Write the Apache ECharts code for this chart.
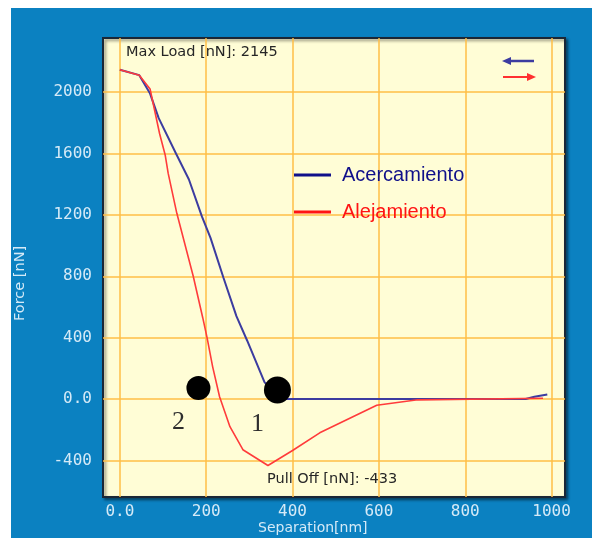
<!DOCTYPE html>
<html>
<head>
<meta charset="utf-8">
<script src="https://cdn.jsdelivr.net/npm/echarts@6/dist/echarts.min.js"></script>
<style>
  html, body { margin: 0; padding: 0; background: #ffffff; }
  #wrap { position: relative; width: 592px; height: 538px; }
  #panel { position: absolute; left: 11px; top: 8px; right: 0; bottom: 0; background: #0b81c1; }
  #chart { position: absolute; left: 0; top: 0; width: 592px; height: 538px; }
</style>
</head>
<body>
<div id="wrap"><div id="panel"></div><div id="chart"></div></div>
<script>
// Force–separation curves of an AFM indentation (separation in nm, force in nN)
const approachSep   = [0, 45, 70, 90, 130, 160, 190, 210, 240, 270, 295, 335, 370, 940, 960, 990];
const approachForce = [2145, 2110, 1990, 1830, 1600, 1430, 1190, 1050, 790, 540, 380, 110, 0, 0, 15, 30];

const retractSep   = [0, 45, 70, 92, 105, 112, 132, 170, 192, 202, 215, 231, 255, 285, 343, 400, 463, 595, 690, 980];
const retractForce = [2145, 2110, 2020, 1730, 1590, 1470, 1210, 800, 530, 400, 210, 15, -180, -330, -433, -335, -220, -40, -5, 5];

// contact events marked on the curves
const eventNames = ['1', '2'];
const eventSep   = [365, 182];
const eventForce = [59, 72];

const seriesNames = ['Acercamiento', 'Alejamiento'];
const xTicks = [0, 200, 400, 600, 800, 1000];
const yTicks = [-400, 0, 400, 800, 1200, 1600, 2000];

const maxLoad = Math.max(...approachForce, ...retractForce);
const pullOff = Math.min(...retractForce);

const pair = (xs, ys) => xs.map((x, i) => [x, ys[i]]);
const tickFmt = v => (v === 0 ? '0.0' : String(v));

const axisLabelColor = '#d5eaf7';
const gridColor = 'rgba(255,190,70,0.75)';

const chart = echarts.init(document.getElementById('chart'), null, { renderer: 'canvas' });

chart.setOption({
  animation: false,
  backgroundColor: 'transparent',
  grid: {
    left: 103, top: 38, width: 462, height: 459,
    show: true,
    backgroundColor: '#fffdd6',
    borderColor: '#1b2736',
    borderWidth: 2,
    shadowColor: 'rgba(0,0,0,0.45)',
    shadowBlur: 3,
    shadowOffsetX: 2,
    shadowOffsetY: 2
  },
  xAxis: {
    type: 'value',
    min: -39, max: 1031,
    axisLine: { show: false },
    axisTick: { show: false, customValues: xTicks },
    axisLabel: {
      customValues: xTicks,
      formatter: tickFmt,
      color: axisLabelColor,
      fontFamily: 'DejaVu Sans Mono',
      fontSize: 16,
      margin: 7
    },
    splitLine: { show: true, lineStyle: { color: gridColor, width: 2 } }
  },
  yAxis: {
    type: 'value',
    min: -638, max: 2352,
    axisLine: { show: false },
    axisTick: { show: false, customValues: yTicks },
    axisLabel: {
      customValues: yTicks,
      formatter: tickFmt,
      color: axisLabelColor,
      fontFamily: 'DejaVu Sans Mono',
      fontSize: 16,
      margin: 11
    },
    splitLine: { show: true, lineStyle: { color: gridColor, width: 2 } }
  },
  legend: {
    orient: 'vertical',
    left: 294, top: 165,
    padding: 0,
    itemWidth: 37, itemHeight: 3,
    itemGap: 17,
    icon: 'rect',
    textStyle: { fontFamily: 'Liberation Sans', fontSize: 20, lineHeight: 20, padding: [0, 0, 0, 6] },
    data: [
      { name: seriesNames[0], itemStyle: { color: '#10108a' }, textStyle: { color: '#10108a' } },
      { name: seriesNames[1], itemStyle: { color: '#ff1414' }, textStyle: { color: '#ff1414' } }
    ]
  },
  series: [
    {
      name: seriesNames[0],
      type: 'line',
      data: pair(approachSep, approachForce),
      showSymbol: false,
      color: '#3c3ca0',
      lineStyle: { color: '#3c3ca0', width: 2 },
      z: 2
    },
    {
      name: seriesNames[1],
      type: 'line',
      data: pair(retractSep, retractForce),
      showSymbol: false,
      color: '#ff3b3b',
      lineStyle: { color: '#ff3b3b', width: 1.6 },
      z: 3
    },
    {
      name: 'events',
      type: 'scatter',
      data: eventNames.map((n, i) => ({ name: n, value: [eventSep[i], eventForce[i]], symbolSize: i === 0 ? 27 : 24 })),
      symbol: 'circle',
      itemStyle: { color: '#000000', opacity: 1 },
      label: {
        show: true,
        formatter: p => p.name,
        position: 'inside',
        offset: [-20, 34],
        fontFamily: 'Liberation Serif',
        fontSize: 26,
        color: '#2e2e2e'
      },
      z: 4
    }
  ],
  graphic: [
    {
      type: 'text', left: 126, top: 45, z: 10,
      style: { text: 'Max Load [nN]: ' + maxLoad, fill: '#262626', font: '14.5px "DejaVu Sans"' }
    },
    {
      type: 'text', left: 267, top: 472, z: 10,
      style: { text: 'Pull Off [nN]: ' + pullOff, fill: '#262626', font: '14.5px "DejaVu Sans"' }
    },
    {
      type: 'text', left: 258, top: 521, z: 10,
      style: { text: 'Separation[nm]', fill: axisLabelColor, font: '14px "DejaVu Sans"' }
    },
    {
      type: 'text', z: 10, x: 13, y: 321, rotation: Math.PI / 2,
      style: { text: 'Force [nN]', fill: axisLabelColor, font: '14.5px "DejaVu Sans"' }
    },
    // direction arrows: approach (left) and retract (right)
    {
      type: 'group', z: 10,
      children: [
        { type: 'line', shape: { x1: 508, y1: 61, x2: 534, y2: 61 }, style: { stroke: '#3c3ca0', lineWidth: 2.5 } },
        { type: 'polygon', shape: { points: [[502, 61], [511, 57], [511, 65]] }, style: { fill: '#3c3ca0' } },
        { type: 'line', shape: { x1: 503, y1: 77, x2: 530, y2: 77 }, style: { stroke: '#ff3030', lineWidth: 2 } },
        { type: 'polygon', shape: { points: [[536, 77], [527, 73], [527, 81]] }, style: { fill: '#ff3030' } }
      ]
    }
  ]
});
</script>
</body>
</html>
